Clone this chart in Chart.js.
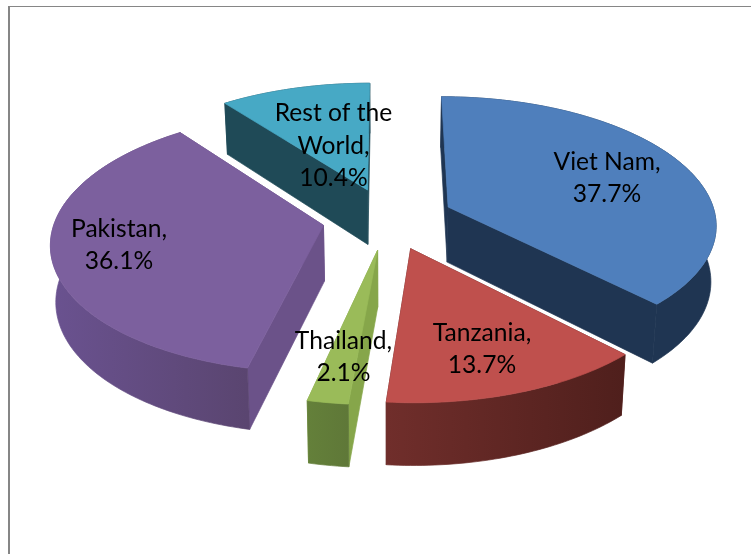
<!DOCTYPE html>
<html>
<head>
<meta charset="utf-8">
<style>
  html, body { margin: 0; padding: 0; background: #fff; }
  canvas { display: block; }
</style>
<script src="https://cdn.jsdelivr.net/npm/chart.js@4/dist/chart.umd.js"></script>
</head>
<body>
<canvas id="pie" width="751" height="554"></canvas>
<script>
// Share of production by country, in percent, clockwise from 12 o'clock.
const categories = ['Viet Nam', 'Tanzania', 'Thailand', 'Pakistan', 'Rest of the\nWorld'];
const shares = [37.7, 13.7, 2.1, 36.1, 10.4];

// Slice colours: top face, radial cut walls, outer rim (left to right across the slice).
const topColors = ['#4F7FBC', '#BF504D', '#9ABB59', '#7C609E', '#47A9C5'];
const cutColors = ['#1F3552', '#5A2321', '#86A64A', '#6B5289', '#1F4A57'];
const rimLeft   = ['#1F3552', '#702E2B', '#64803A', '#6A5290', '#1F4A57'];
const rimRight  = ['#1F3552', '#4F1F1C', '#5F7838', '#5A4570', '#1F4A57'];

// Centre of each label block, in canvas pixels.
const labelCentres = [[607, 178], [482, 349], [343.5, 357], [119, 245], [333.5, 146]];

const RADIUS = 200;
const EXPLODE = 49;
const LABEL_FONT = '24.6px Lato';
const LINE_HEIGHT = 32.5;

// Camera used for the tilted pie: the disc plane is mapped with a homography.
const view = { cx: 388, scaleX: 268, vanishY: -800, spanY: 1018.6, tilt: 0.1244 };
// The lower face is the upper one pushed down and pulled slightly to the centre.
const floor = { shrinkX: 0.984, dropBase: 47, dropSlope: 0.039 };

function projectTop(u, v) {
  const d = 1 + view.tilt * v;
  return [view.cx + view.scaleX * u / d, view.vanishY + view.spanY / d];
}

function toFloor(p) {
  return [
    view.cx + (p[0] - view.cx) * floor.shrinkX,
    p[1] * (1 + floor.dropSlope) + floor.dropBase
  ];
}

function tracePath(ctx, points) {
  ctx.beginPath();
  points.forEach((p, i) => (i ? ctx.lineTo(p[0], p[1]) : ctx.moveTo(p[0], p[1])));
  ctx.closePath();
}

// Fills and lightly strokes a polygon so neighbouring faces leave no seam.
function paintFace(ctx, points, style) {
  ctx.fillStyle = style;
  ctx.strokeStyle = style;
  tracePath(ctx, points);
  ctx.fill();
  ctx.stroke();
}

// Reads one arc element's geometry and returns its projected outline.
function sliceOutline(arc) {
  const props = arc.getProps(['startAngle', 'endAngle', 'outerRadius']);
  const a0 = props.startAngle + Math.PI / 2;
  const a1 = props.endAngle + Math.PI / 2;
  const mid = (a0 + a1) / 2;
  const e = arc.options.offset / props.outerRadius;
  const ou = e * Math.sin(mid);
  const ov = e * Math.cos(mid);
  const rim = [];
  const steps = Math.max(4, Math.ceil((a1 - a0) / 0.02));
  for (let i = 0; i <= steps; i++) {
    const t = a0 + (a1 - a0) * i / steps;
    rim.push(projectTop(ou + Math.sin(t), ov + Math.cos(t)));
  }
  return { apex: projectTop(ou, ov), rim, depthKey: ov };
}

const pie3d = {
  id: 'pie3d',
  beforeDraw(chart) {
    // Frame around the chart area; it runs off the right and lower edges.
    const ctx = chart.ctx;
    ctx.save();
    ctx.fillStyle = '#868686';
    ctx.fillRect(8, 6, 743, 1);
    ctx.fillRect(8, 6, 2, 548);
    ctx.restore();
  },
  beforeDatasetDraw(chart, args) {
    const ctx = chart.ctx;
    const arcs = args.meta.data;
    const order = arcs
      .map((arc, i) => ({ i, shape: sliceOutline(arc) }))
      .sort((a, b) => b.shape.depthKey - a.shape.depthKey);

    ctx.save();
    ctx.lineWidth = 0.7;
    ctx.lineJoin = 'round';
    order.forEach(({ i, shape }) => {
      const { apex, rim } = shape;
      const first = rim[0];
      const last = rim[rim.length - 1];

      // Radial cut walls.
      paintFace(ctx, [apex, last, toFloor(last), toFloor(apex)], cutColors[i]);
      paintFace(ctx, [apex, first, toFloor(first), toFloor(apex)], cutColors[i]);

      // Outer rim wall, shaded across its width.
      const lower = rim.map(toFloor).reverse();
      const xs = rim.map(p => p[0]);
      const grad = ctx.createLinearGradient(Math.min(...xs), 0, Math.max(...xs), 0);
      grad.addColorStop(0, rimLeft[i]);
      grad.addColorStop(1, rimRight[i]);
      paintFace(ctx, rim.concat(lower), grad);

      // Top face.
      paintFace(ctx, [apex].concat(rim), arcs[i].options.backgroundColor);
    });
    ctx.restore();
    return false;
  },
  afterDatasetsDraw(chart) {
    const ctx = chart.ctx;
    const values = chart.data.datasets[0].data;
    ctx.save();
    ctx.font = LABEL_FONT;
    ctx.fillStyle = '#000';
    ctx.textAlign = 'center';
    ctx.textBaseline = 'middle';
    chart.data.labels.forEach((name, i) => {
      const lines = (name + ',').split('\n').concat(values[i].toFixed(1) + '%');
      const [x, y] = labelCentres[i];
      lines.forEach((line, k) => {
        ctx.fillText(line, x, y + (k - (lines.length - 1) / 2) * LINE_HEIGHT);
      });
    });
    ctx.restore();
  }
};

new Chart(document.getElementById('pie'), {
  type: 'pie',
  data: {
    labels: categories,
    datasets: [{
      data: shares,
      backgroundColor: topColors,
      borderWidth: 0,
      offset: EXPLODE
    }]
  },
  options: {
    responsive: false,
    animation: false,
    radius: RADIUS,
    events: [],
    plugins: { legend: { display: false }, tooltip: { enabled: false } }
  },
  plugins: [pie3d]
});
</script>
</body>
</html>
